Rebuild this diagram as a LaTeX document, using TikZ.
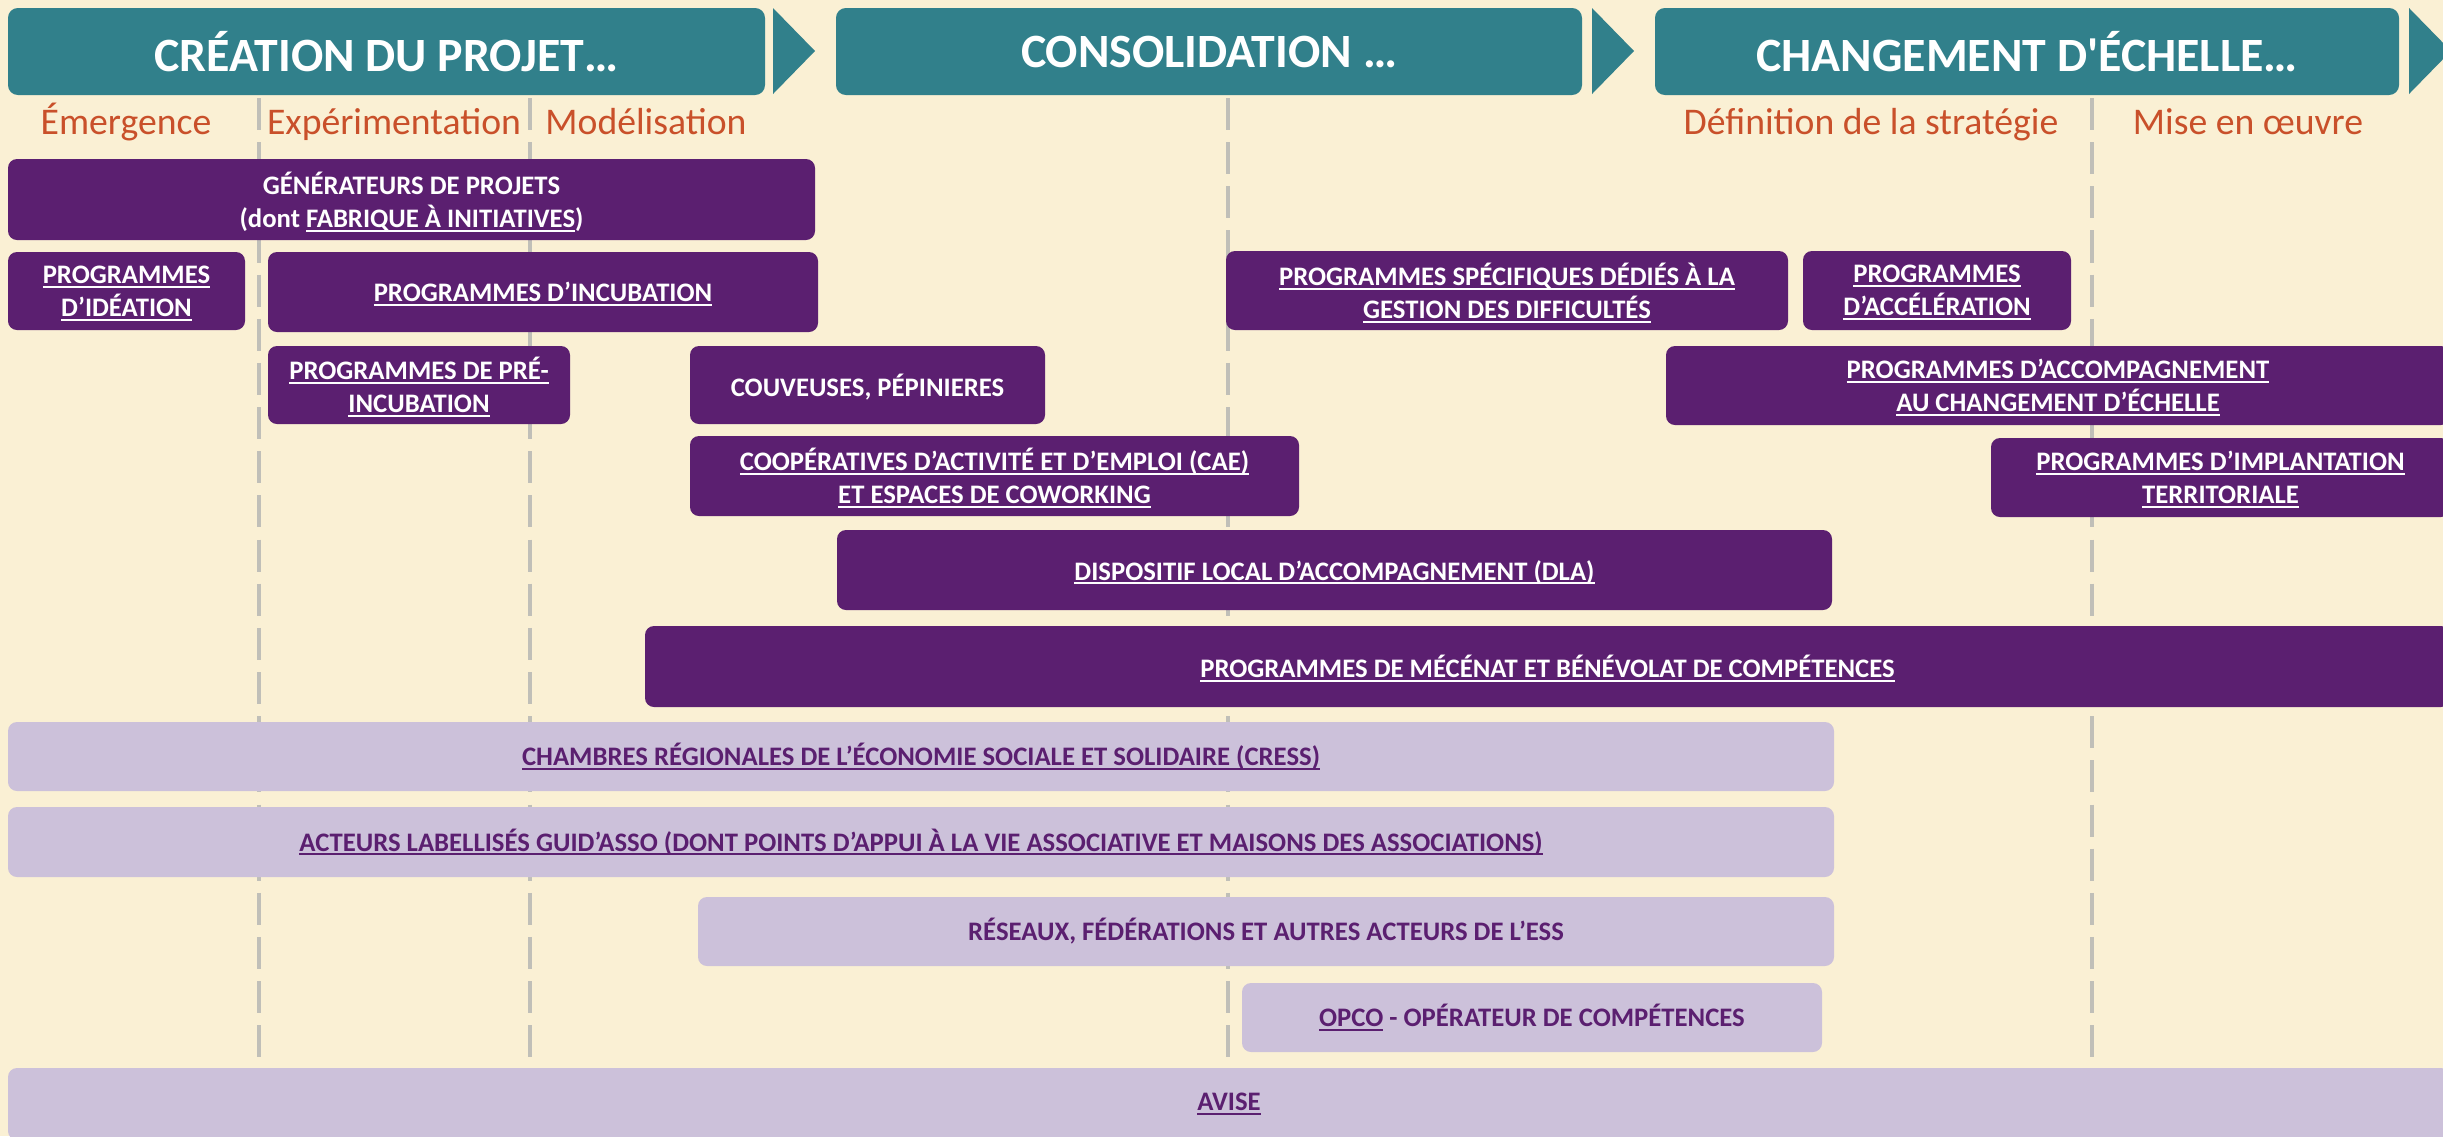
\documentclass[tikz,border=0pt]{standalone}
\usepackage{fontspec}
\setmainfont{Carlito}
\newfontfamily\titrefont{Carlito}[Ligatures=Common]
\newcommand\souligne[1]{\setbox0\hbox{#1}\rlap{\vrule width\wd0 height -0.8pt depth 1.5pt}\box0\relax}
\definecolor{creme}{HTML}{FAF0D4}
\definecolor{bleuphase}{HTML}{31808B}
\definecolor{violet}{HTML}{5B1F70}
\definecolor{lilas}{HTML}{CCC1DA}
\definecolor{orange}{HTML}{C9502A}
\definecolor{gris}{HTML}{C0BFB8}
\begin{document}
\begin{tikzpicture}[x=0.0125cm,y=-0.0125cm,
  phase/.style={fill=bleuphase, rounded corners=3.5pt},
  fleche/.style={fill=bleuphase},
  phasetxt/.style={text=white, font=\titrefont\bfseries\fontsize{17}{20}\selectfont},
  etape/.style={text=orange, anchor=base, font=\fontsize{13.4}{16}\selectfont},
  sep/.style={gris, line width=1.4pt, dash pattern=on 11.4pt off 4.3pt},
  fonce/.style={fill=violet, rounded corners=3.2pt},
  clair/.style={fill=lilas, rounded corners=3.2pt},
  btxt/.style={text=white, align=center, yshift=-0.8pt, font=\bfseries\fontsize{9.5}{11.7}\selectfont},
  vtxt/.style={text=violet, align=center, font=\bfseries\fontsize{9.5}{11.7}\selectfont}]
\useasboundingbox[fill=creme] (0,0) rectangle (2443,1136);
% separateurs
\foreach \x in {259,530,1228,2092}
{
\draw[sep] (\x,98)--(\x,1140);
}
% phases
\path[phase] (8,8) rectangle node[phasetxt] (creation) {CRÉATION DU PROJET…} (765,95);
\path[phase] (836,8) rectangle node[phasetxt] (conso) {CONSOLIDATION …} (1582,95);
\path[phase] (1655,8) rectangle node[phasetxt] (echelle) {CHANGEMENT D'ÉCHELLE…} (2399,95);
\foreach \x in {773,1592,2409}
{
\fill[fleche] (\x,8)--(\x+42,51)--(\x,94)--cycle;
}
\node[etape] (emerg) at (126,134) {Émergence};
\node[etape] (exper) at (394,134) {Expérimentation};
\node[etape] (model) at (646,134) {Modélisation};
\node[etape] (strat) at (1871,134) {Définition de la stratégie};
\node[etape] (oeuvre) at (2248,134) {Mise en œuvre};
% dispositifs
\path[fonce] (8,159) rectangle node[btxt] (gen) {GÉNÉRATEURS DE PROJETS\\(dont \souligne{FABRIQUE À INITIATIVES})} (815,240);
\path[fonce] (8,252) rectangle node[btxt] (ideation) {\souligne{PROGRAMMES}\\\souligne{D’IDÉATION}} (245,330);
\path[fonce] (268,252) rectangle node[btxt] (incub) {\souligne{PROGRAMMES D’INCUBATION}} (818,332);
\path[fonce] (268,346) rectangle node[btxt] (preincub) {\souligne{PROGRAMMES DE PRÉ-}\\\souligne{INCUBATION}} (570,424);
\path[fonce] (690,346) rectangle node[btxt] (couv) {COUVEUSES, PÉPINIERES} (1045,424);
\path[fonce] (690,436) rectangle node[btxt] (cae) {\souligne{COOPÉRATIVES D’ACTIVITÉ ET D’EMPLOI (CAE)}\\\souligne{ET ESPACES DE COWORKING}} (1299,516);
\path[fonce] (837,530) rectangle node[btxt] (dla) {\souligne{DISPOSITIF LOCAL D’ACCOMPAGNEMENT (DLA)}} (1832,610);
\path[fonce] (645,626) rectangle node[btxt] (mecenat) {\souligne{PROGRAMMES DE MÉCÉNAT ET BÉNÉVOLAT DE COMPÉTENCES}} (2450,707);
\path[fonce] (1226,251) rectangle node[btxt] (diffic) {\souligne{PROGRAMMES SPÉCIFIQUES DÉDIÉS À LA}\\\souligne{GESTION DES DIFFICULTÉS}} (1788,330);
\path[fonce] (1803,251) rectangle node[btxt] (accel) {\souligne{PROGRAMMES}\\\souligne{D’ACCÉLÉRATION}} (2071,330);
\path[fonce] (1666,346) rectangle node[btxt] (accomp) {\souligne{PROGRAMMES D’ACCOMPAGNEMENT}\\\souligne{AU CHANGEMENT D’ÉCHELLE}} (2450,425);
\path[fonce] (1991,438) rectangle node[btxt] (implant) {\souligne{PROGRAMMES D’IMPLANTATION}\\\souligne{TERRITORIALE}} (2450,517);
% acteurs
\path[clair] (8,722) rectangle node[vtxt] (cress) {\souligne{CHAMBRES RÉGIONALES DE L’ÉCONOMIE SOCIALE ET SOLIDAIRE (CRESS)}} (1834,791);
\path[clair] (8,807) rectangle node[vtxt] (guidasso) {\souligne{ACTEURS LABELLISÉS GUID’ASSO (DONT POINTS D’APPUI À LA VIE ASSOCIATIVE ET MAISONS DES ASSOCIATIONS)}} (1834,877);
\path[clair] (698,897) rectangle node[vtxt] (reseaux) {RÉSEAUX, FÉDÉRATIONS ET AUTRES ACTEURS DE L’ESS} (1834,966);
\path[clair] (1242,983) rectangle node[vtxt] (opco) {\souligne{OPCO} - OPÉRATEUR DE COMPÉTENCES} (1822,1052);
\path[clair] (8,1068) rectangle node[vtxt] (avise) {\souligne{AVISE}} (2450,1140);
\end{tikzpicture}
\end{document}
